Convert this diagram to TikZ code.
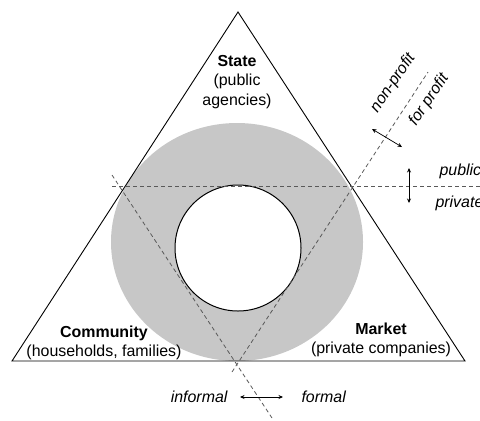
\documentclass[tikz,border=0pt]{standalone}
\usepackage{fontspec}
\setmainfont{Liberation Sans}
\usetikzlibrary{arrows.meta}

\begin{document}
\begin{tikzpicture}[
  x=1bp, y=-1bp,
  sector/.style={font=\fontsize{16}{19.5}\selectfont, align=center},
  axistext/.style={font=\fontsize{16}{19.5}\selectfont\itshape},
  divide/.style={draw=black!65, line width=0.8bp, dash pattern=on 4bp off 3bp},
  twoway/.style={{Stealth[length=4.5bp,width=4bp]}-{Stealth[length=4.5bp,width=4bp]}, line width=0.7bp}
]
\useasboundingbox (0,0) rectangle (480,420);

% shaded ring
\fill[black!22] (237,242) ellipse [x radius=126, y radius=119];
\filldraw[fill=white, draw=black, line width=1bp] (238,248) circle [radius=63];

% triangle
\coordinate (apex) at (238,12);
\coordinate (left) at (12,361);
\coordinate (right) at (465,361);
\draw[line width=0.9bp] (apex) -- (left) -- (right) -- cycle;

% dividing lines
\coordinate (h1) at (112,186);
\coordinate (h2) at (480,186);
\coordinate (d1) at (112,175);
\coordinate (d2) at (272,418);
\coordinate (e1) at (232,372);
\coordinate (e2) at (428,72);
\draw[divide] (h1) -- (h2);
\draw[divide] (d1) -- (d2);
\draw[divide] (e1) -- (e2);

% sectors
\node[sector] (state) at (237,82) {\textbf{State}\\(public\\agencies)};
\node[sector] (community) at (104,343) {\textbf{Community}\\(households, families)};
\node[sector] (market) at (381,340) {\textbf{Market}\\(private companies)};

% axes
\coordinate (p1) at (409,168);
\coordinate (p2) at (409,203);
\draw[twoway] (p1) -- (p2);
\node[axistext, anchor=base west] (public) at (436,175) {public};
\node[axistext, anchor=base west] (private) at (432,207) {private};

\coordinate (f1) at (240,397);
\coordinate (f2) at (283,397);
\draw[twoway] (f1) -- (f2);
\node[axistext, anchor=base east] (informal) at (231,402) {informal};
\node[axistext, anchor=base west] (formal) at (298,402) {formal};

\coordinate (n1) at (372,129);
\coordinate (n2) at (402,147);
\draw[twoway] (n1) -- (n2);
\node[axistext, rotate=56] (nonprofit) at (393,83) {non-profit};
\node[axistext, rotate=56] (forprofit) at (429,100) {for profit};
\end{tikzpicture}
\end{document}
